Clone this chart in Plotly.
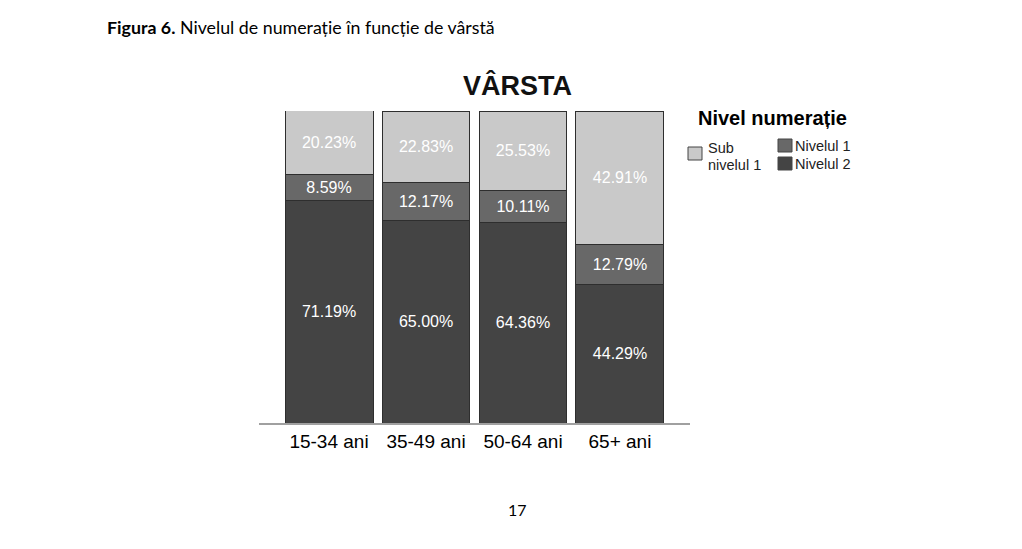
import plotly.graph_objects as go

categories = ["15-34 ani", "35-49 ani", "50-64 ani", "65+ ani"]
nivelul2 = [71.19, 65.00, 64.36, 44.29]
nivelul1 = [8.59, 12.17, 10.11, 12.79]
sub_nivelul1 = [20.23, 22.83, 25.53, 42.91]

series = [
    ("Nivelul 2", nivelul2, "#444444"),
    ("Nivelul 1", nivelul1, "#686868"),
    ("Sub nivelul 1", sub_nivelul1, "#c9c9c9"),
]

FONT = "Liberation Sans, Arial, sans-serif"
xpos = list(range(len(categories)))

fig = go.Figure()
for name, vals, col in series:
    fig.add_trace(go.Bar(
        x=xpos, y=vals, name=name, width=0.907,
        marker=dict(color=col, line=dict(color="#2e2e2e", width=1)),
        text=[f"{v:.2f}%" for v in vals], textposition="inside",
        insidetextanchor="middle",
        textfont=dict(color="white", size=16, family=FONT),
        showlegend=False, hoverinfo="skip",
    ))

# body margin of 8px in the page shifts everything; compensate
OFF = 8
fig.update_layout(
    barmode="stack",
    width=1022, height=549,
    margin=dict(l=259 - OFF, r=332 + OFF, t=111 - OFF, b=126 + OFF),
    paper_bgcolor="white", plot_bgcolor="white",
    uniformtext=dict(minsize=16, mode="show"),
    xaxis=dict(range=[-0.722, 3.722], tickvals=xpos, ticktext=categories,
               showgrid=False, zeroline=False, showline=True,
               linecolor="#a0a0a0", linewidth=2, ticks="",
               tickfont=dict(size=19, color="black", family=FONT)),
    yaxis=dict(range=[0, 100], visible=False),
    font=dict(family=FONT),
)

def px(x):
    return (x - 259) / 431
def py(y):
    return (423 - y) / 312

ann = []
ann.append(dict(xref="paper", yref="paper", x=px(517), y=py(85), xanchor="center", yanchor="middle",
                showarrow=False, text="<b>VÂRSTA</b>", font=dict(size=27, color="#111", family=FONT)))
ann.append(dict(xref="paper", yref="paper", x=px(105), y=py(27), xanchor="left", yanchor="middle",
                showarrow=False, text="<b>Figura 6.</b> Nivelul de numerație în funcție de vârstă",
                font=dict(size=17.8, color="black", family="Lato, sans-serif")))
ann.append(dict(xref="paper", yref="paper", x=px(517), y=py(509), xanchor="center", yanchor="middle",
                showarrow=False, text="17", font=dict(size=16, color="black", family="Lato, sans-serif")))

ann.append(dict(xref="paper", yref="paper", x=px(696), y=py(118), xanchor="left", yanchor="middle",
                showarrow=False, text="<b>Nivel numerație</b>", font=dict(size=20, color="black", family=FONT)))

shapes = []
legend_boxes = [
    ("#c9c9c9", 688, 147),
    ("#686868", 778, 139),
    ("#444444", 778, 157),
]
for col, bx, by in legend_boxes:
    shapes.append(dict(type="rect", xref="paper", yref="paper",
                       x0=px(bx), x1=px(bx + 14), y0=py(by), y1=py(by + 13),
                       fillcolor=col, line=dict(color="#444", width=1)))
legend_texts = [
    ("Sub", 706, 148),
    ("nivelul 1", 706, 165),
    ("Nivelul 1", 793, 146),
    ("Nivelul 2", 793, 164),
]
for label, tx, ty in legend_texts:
    ann.append(dict(xref="paper", yref="paper", x=px(tx), y=py(ty), xanchor="left", yanchor="middle",
                    showarrow=False, text=label, align="left",
                    font=dict(size=14.5, color="#222", family=FONT)))

fig.update_layout(annotations=ann, shapes=shapes)
fig.write_html("out.html")
